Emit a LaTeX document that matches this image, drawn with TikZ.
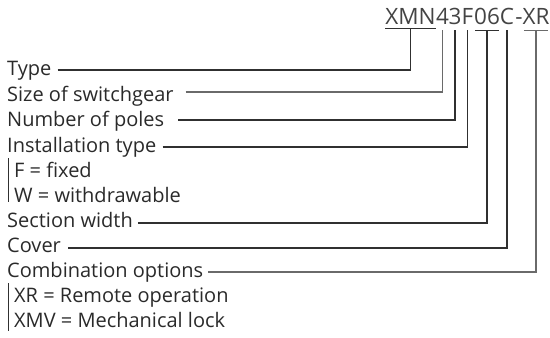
\documentclass[tikz,border=0pt]{standalone}
\usepackage{fontspec}
\setmainfont{Open Sans}
\usetikzlibrary{calc}
\definecolor{txt}{HTML}{2A2A2A}
\definecolor{codec}{HTML}{444444}
\definecolor{ln}{HTML}{303030}
\definecolor{lg}{HTML}{6A6A6A}
\begin{document}
\begin{tikzpicture}[x=1pt,y=-1pt,
  lab/.style={anchor=base west, inner sep=0pt, font=\fontsize{20}{20}\selectfont, text=txt},
  code/.style={anchor=base, inner xsep=0pt, inner ysep=6pt, text depth=0pt, font=\fontsize{22.5}{22.5}\selectfont, text=codec},
  conn/.style={draw=ln, line width=1.2pt},
  conng/.style={draw=lg, line width=1.2pt},
  bar/.style={draw=ln, line width=1pt}]
\useasboundingbox (0,0) rectangle (550,338);

% code segments
\node[code, inner ysep=4pt] (cXMN) at (410.5,24) {XMN};
\node[code] (c4) at (442.5,24) {4};
\node[code] (c3) at (455,24) {3};
\node[code] (cF) at (467.5,24) {F};
\node[code] (c06) at (487,24) {06};
\node[code] (cC) at (507,24) {C};
\node[code] (cH) at (519,24) {-};
\node[code] (cXR) at (536,24) {XR};

% labels
\node[lab] (typeL) at (7,75) {Type};
\node[lab] (sizeL) at (7,101) {Size of switchgear};
\node[lab] (poleL) at (7,126) {Number of poles};
\node[lab] (instL) at (7,152) {Installation type};
\node[lab] (fixL) at (14,177) {F = fixed};
\node[lab] (wdrL) at (14,202) {W = withdrawable};
\node[lab] (secL) at (7,227) {Section width};
\node[lab] (covL) at (7,252) {Cover};
\node[lab] (combL) at (7,277) {Combination options};
\node[lab] (xrL) at (14,302) {XR = Remote operation};
\node[lab] (xmvL) at (14,327) {XMV = Mechanical lock};

% sub-item bars
\coordinate (b1t) at ($(fixL.base west)+(-6,-19)$);
\coordinate (b1b) at ($(wdrL.base west)+(-6,0)$);
\draw[bar] (b1t) -- (b1b);
\coordinate (b2t) at ($(xrL.base west)+(-6,-19)$);
\coordinate (b2b) at ($(xmvL.base west)+(-6,4)$);
\draw[bar] (b2t) -- (b2b);

% underlines / T bars
\draw[conn] (cXMN.south west) -- (cXMN.south east);
\draw[conn] ([xshift=1.5pt]c06.south west) -- ([xshift=-1.5pt]c06.south east);
\draw[conng] ([xshift=1.5pt]cXR.south west) -- ([xshift=-1.5pt]cXR.south east);

% connectors
\coordinate (sType) at ($(typeL.base east)+(6,-5)$);
\coordinate (sSize) at ($(sizeL.base east)+(12,-9)$);
\coordinate (sPole) at ($(poleL.base east)+(14,-6)$);
\coordinate (sInst) at ($(instL.base east)+(6,-5)$);
\coordinate (sSec) at ($(secL.base east)+(5,-4)$);
\coordinate (sCov) at ($(covL.base east)+(7,-4)$);
\coordinate (sComb) at ($(combL.base east)+(5,-5)$);
\draw[conn] (sType) -| (cXMN.south);
\draw[conng] (sSize) -| (c4.south);
\draw[conn] (sPole) -| (c3.south);
\draw[conn] (sInst) -| (cF.south);
\draw[conn] (sSec) -| (c06.south);
\draw[conn] (sCov) -| (cC.south);
\draw[conng] (sComb) -| (cXR.south);
\end{tikzpicture}
\end{document}
